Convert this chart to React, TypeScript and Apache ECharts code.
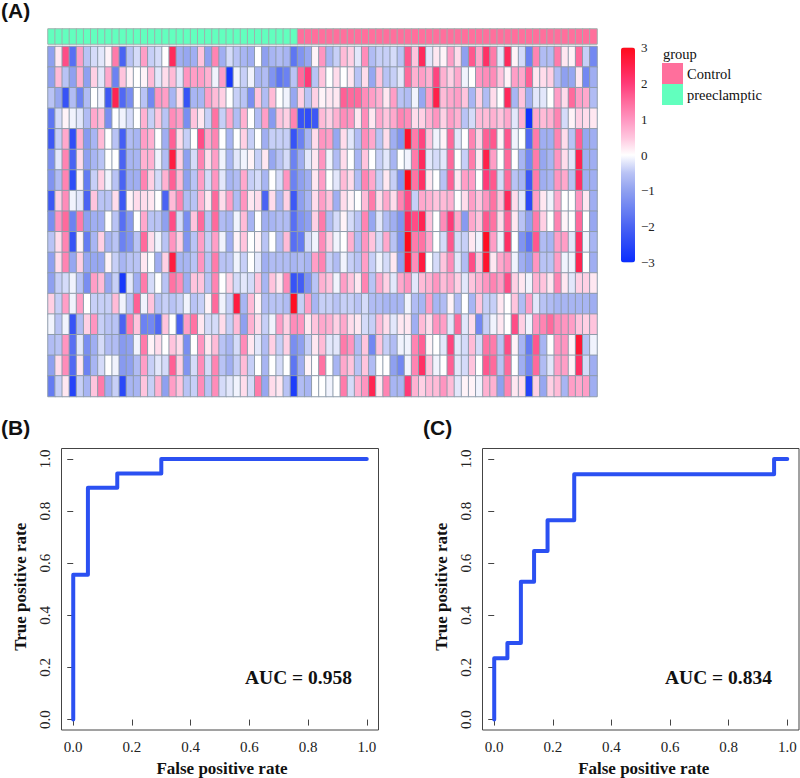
import React, { useEffect, useRef } from "react";
import * as echarts from "echarts";

const row01 = [-1,.2,1.8,-1.8,.9,-.5,-.3,-.2,.1,1.3,-2,-.5,-.3,.9,-.4,-.3,0,2.3,-.8,-.9,-.8,.5,-1,1.2,-.8,-.3,-.5,-.7,-.8,0,-1,-.7,-.6,-.7,-1.7,-1.2,-.9,.1,1,-.7,-.4,.6,.4,-.2,1.1,-.6,-.4,-.4,-.3,-.5,1.7,.5,2.3,-.2,.2,.1,.9,.3,-1,1.7,.8,2.2,1.3,-.2,2.3,.1,-.3,-1.5,1.2,-.6,-.6,1.3,.2,.1,1.5,-.4,-1.4];
const row02 = [-1,.6,-.5,-1,.7,-1,.4,-.2,.8,-1.5,.5,.1,0,.1,.6,-.2,.3,.6,-.2,1,.9,.9,.7,-.1,.9,-2.8,-.1,-.4,-.1,-.7,-.6,-1.2,-1.7,-1.5,-.5,1.5,2,-.5,.5,0,.3,0,.2,-.5,.3,-.9,.5,-.5,-.4,-.2,1.5,.7,.9,.7,1.9,.7,.4,.8,-.1,0,1,1.1,1.1,.5,.1,.9,.8,1.6,.2,.3,.4,-.6,-1,-.9,.2,-1.4,-.8];
const row03 = [-.5,-.9,-2.3,-.6,-1.5,-.6,0,-.1,-2.2,2.4,-1.9,-1.3,0,-.5,-1.4,1,.9,-.7,.3,-2.3,-.7,-.7,.9,.6,.4,0,-.4,-.5,-1.3,.5,-.6,.6,0,-.1,-.9,.4,-.5,.4,.1,.2,.2,1.6,1.5,1.5,1.1,.9,.7,.2,.9,-.5,-.6,-.1,-.9,.9,2.5,.6,.8,.9,.5,-.7,.4,-.6,.3,0,2.3,-.7,.5,-.8,-.2,-.2,0,.9,.3,1.5,.9,.8,-.6];
const row04 = [-1.7,-.3,.1,-.1,-.2,-.6,.8,.6,-1.3,0,-.1,-.3,0,.7,-.4,.5,-.5,1.1,.9,-1.3,.5,.2,-.4,1.4,-.4,.8,-.6,.7,0,-.6,.9,-1.1,.5,.4,1.2,-2.3,-2.4,-2.2,.6,.4,.7,1.1,1,.2,1.1,.2,.8,.5,.8,1.2,1.1,.3,.4,.7,1,.4,.9,.7,-.5,-.3,.6,.6,.7,.5,.8,-.2,.7,-2.9,.8,.6,.7,1.2,-.3,.1,.4,.3,.2];
const row05 = [-2.2,-.4,.8,-2.4,.7,-1.1,-.7,.6,0,-.5,-2.1,-.6,-.7,.9,.7,0,-.8,1.6,.3,-.4,0,1.8,.8,1.2,0,-.7,0,.4,-.4,0,-.8,-.4,-.4,-.4,-2.3,-1.5,-.7,.3,1,.9,-.9,.3,-.2,-.6,1.1,.8,-.5,.3,-.8,-1.2,2.8,1.3,1.9,.5,-.1,.1,1.5,-.2,0,1.2,.4,1.6,1.7,.1,1.7,-.1,0,-1.9,1.3,-.8,-.8,1.2,.3,-.5,1.6,-.9,-.8];
const row06 = [-1.3,-.2,1.2,-2,.3,-1,-.7,-.5,0,0,-2,-.7,-.7,.7,.7,-.1,-.6,2.6,.4,-1,-.3,1.2,.3,.9,-.1,-.7,-.2,-.1,.1,-.4,.2,-.9,-.5,-.3,-1.5,-.8,-.2,.2,1,-.1,-.6,.3,0,-.7,.5,0,-.4,-.2,-.7,0,-.1,1.3,2.3,-.2,-.3,-.2,1.5,0,-.4,1.3,.2,2.5,.9,0,1.5,0,-.7,-1.4,1.3,-.9,-.7,1,.3,-.2,2.4,-.8,-.8];
const row07 = [-1.2,-.6,1.2,-2.4,.1,-1.6,-.4,.4,-.1,-.5,-2,-.8,-.8,1.2,.4,-.3,.7,1.6,.6,-1,-.5,.9,-.3,1,-.2,-.7,-.6,.8,-.4,-.3,-.7,0,-.3,1,-1.5,-1,-.8,.2,.9,0,-.2,.6,.3,-.6,1.2,.8,-.4,.2,-.4,-1.2,3,1.4,2.2,.2,0,-.5,1.6,.2,.9,.9,0,2,1.7,-.3,1.5,-.5,-.7,-2.2,1.3,-.8,-.7,1,.8,-.5,2.2,-.8,-.8];
const row08 = [-2.2,.4,1.1,-.1,-.2,-2,.5,-.5,-.5,.3,-2.2,.1,.3,.3,.2,0,-2,.6,1.2,-.6,-.5,.7,.2,1.5,.3,.9,-.6,1,.2,.3,-2,.3,-.7,.4,-2.2,-1,-.7,.3,.9,.5,-.8,.3,.1,0,.6,1.3,.3,.8,.3,1.2,1.8,-.4,.8,.7,.5,.6,.7,0,.3,.9,.5,1,1.4,.5,2.3,.3,-.2,-2.5,.9,.2,-.1,.8,0,0,1,.2,-.8];
const row09 = [-1.3,1,1.5,-1.5,1.3,-1,-.8,-.8,0,-.5,-1.8,-1.1,0,.8,-.5,-.5,-1,1.8,-.3,-1.3,.5,1.5,-.5,1.5,-.6,-.7,-.1,.6,-.7,0,-.8,-.7,-.6,-.6,-1.8,-1.2,-1,.4,1.3,-.6,-.3,.1,-.3,-.5,1.2,-.9,-.2,-.6,-.8,-1.2,2.3,1.8,2.4,.5,0,1.1,2,.8,-1.1,.8,.5,1.7,1.4,.3,1.6,.2,-.5,-1,1.3,.4,0,1.2,.1,0,1.5,0,-.9];
const row10 = [-.5,.3,1.2,-2.3,.1,-1.6,-.7,.4,-.7,-.5,-1.5,-1.2,-.5,1.5,.3,-.1,-.5,1,.4,-1.2,-.5,.9,-.4,.9,-.1,-.8,.1,.5,0,.1,-.5,0,-.6,.6,-1.8,-1.6,-.3,-.1,1.1,.4,-.1,0,.7,-.6,1,.5,-.3,.8,-.5,-1.2,3,1.3,1.4,.8,0,-.3,1.7,-.3,-.4,.2,-.1,2.9,.9,-.1,2.2,0,-1.2,-1.7,1.7,-.6,-.7,.9,.9,-.2,2.2,-.1,-.7];
const row11 = [-1,.3,1.2,-.9,.4,-.9,-.9,-.9,.1,-.4,-.7,-.5,-.5,.2,0,-.8,.4,2.6,-.7,-.7,-.5,1,-.5,1.3,-.5,-.5,-.1,-.4,0,-.2,-.8,-.6,-.6,-.6,-.7,-.6,-.7,.9,1.2,-.4,-.6,-.1,-.4,-.5,.9,-.4,-.1,-.3,.2,-1,2.8,1.1,2.6,0,-.3,.5,1.1,-.2,-.6,1.8,.5,2.8,.2,.8,1,-.1,-.8,-1,1,-.5,-.5,.9,-.1,-.1,2.4,0,-.8];
const row12 = [-1,-.4,-.3,-.1,-.5,-1.3,.9,.6,-.9,-.4,-2.8,-.2,-.8,1.3,-.3,0,-.5,1.4,1.1,-.8,.5,.5,-.5,1.2,0,.4,-.3,-.2,-.3,.5,-.7,.5,.2,1.1,-2.3,-2.1,-1.2,-.5,.7,.5,-.1,.9,.5,.2,1.2,-.5,.8,.4,-.2,.8,1,-.2,.6,.7,1,.6,.8,.4,-.2,.5,.7,1,1.2,.9,1.8,.4,.2,-.1,.7,.5,.2,1.2,.2,-.2,.4,.4,.2];
const row13 = [.4,-.4,.9,-.1,.9,0,-.4,-.4,-.4,.6,-.1,-.5,1.6,-.1,.5,-.5,-.4,-.5,-.4,-.1,-.5,-.4,.1,1.5,-.1,-.4,2.6,-.7,.6,.1,-.6,-.5,-.5,-.6,2.9,-.4,.9,-.7,-.4,-.4,-.5,-.4,-.4,-.5,-.3,-.6,-.6,-.7,-.7,-.7,-.1,-.6,-.7,.9,-.7,-.6,.1,-.6,0,-.7,.5,-.4,-.4,.2,0,.5,-.6,.9,-.2,-.5,-.6,-.7,-.7,-.7,-.7,-.7,-.8];
const row14 = [-.1,-.5,-.1,-2.3,-.6,.4,1,-.4,-.5,-.5,-2,1.3,.5,-1.5,-1.4,-1.9,.5,0,-2,.9,1.4,.2,-.3,-.3,.3,-.4,.6,-1,.7,.3,-.4,-.1,.9,.4,1.1,1,.2,.5,.8,.7,.4,.8,.3,.2,-.3,-.4,.6,.3,-.2,.2,.2,-.8,.6,.3,1,.9,-.2,1.5,-.2,.3,-1.4,-.4,-.1,.2,0,1.8,.4,-.1,1,1.2,1.5,1.1,1,.9,.5,.4,.5];
const row15 = [-.6,-.5,1,-1.8,-.2,-1.3,-.8,-.3,-.6,-.6,-1.1,-1,-.1,1.3,.1,.3,0,.5,.3,-1.3,0,1,.2,.6,-.5,-.7,-.3,1.1,.2,-.2,-.6,.4,-.4,.4,-1.3,-1,-.4,.2,.6,-.2,-.2,1.3,1,-.6,.5,-1.4,.5,-.4,-.6,-.1,-.1,1.2,1.6,.1,0,-.2,1.9,-.2,-.3,.6,-.3,1.4,1.3,-.5,1.8,.1,-.7,-1.6,1.7,-.7,0,1,1,.1,2.7,-.5,-.1];
const row16 = [-1,.3,1.1,-1.9,.2,-1.5,-.7,-.3,0,-.1,-1.1,-1,-.6,.9,-.4,-.2,-.3,1.6,.4,-1.2,-.3,1.1,-.3,1.2,-.5,-.8,-.4,.6,-.4,0,-.7,0,-.3,0,-1.7,-.8,.1,0,1.4,0,-.7,.8,.5,-.5,.5,-.6,0,0,-1,-1.4,-.1,1.2,2.2,.5,-.1,0,1.6,-.2,-.3,.5,0,1.7,1.5,-.5,1.5,0,-.8,-1.4,1.5,-.6,-.2,.9,.9,.1,2.2,-.3,-.8];
const row17 = [-1.6,-.4,.2,-2.6,-.4,-.7,.5,1.3,-.8,-.4,-2.5,-.7,-.7,.5,-.4,.7,-1,.9,.5,-.5,-.4,1.1,-.5,1.1,-.3,-.2,-.1,.3,-.3,1.3,-.9,.3,.2,-.5,-2.7,-.6,-.7,0,0,-.1,0,1.3,-.3,.7,1,2.4,.2,1.2,-.7,-.7,2,.7,.4,.6,.6,1,.6,-.2,.1,.1,-.1,.7,.7,-1,1.2,.2,.3,-2.6,.4,-.9,.4,.6,-.7,.9,.8,.9,-.8];
const heatRows = [row01,row02,row03,row04,row05,row06,row07,row08,row09,row10,row11,row12,row13,row14,row15,row16,row17];

const preeclampticCount = 35;
const groupNames = ["Control", "preeclamptic"];
const colorTicks = [-3, -2, -1, 0, 1, 2, 3];
const rocTicks = [0, 0.2, 0.4, 0.6, 0.8, 1];
const rocB = [[0,0],[0,0.556],[0.05,0.556],[0.05,0.889],[0.15,0.889],[0.15,0.944],[0.3,0.944],[0.3,1],[1,1]];
const rocC = [[0,0],[0,0.235],[0.045,0.235],[0.045,0.294],[0.091,0.294],[0.091,0.529],[0.136,0.529],[0.136,0.647],[0.182,0.647],[0.182,0.765],[0.273,0.765],[0.273,0.941],[0.955,0.941],[0.955,1],[1,1]];
const heatRamp = ["#0a2dff","#2a48f8","#4a63f3","#6c82f2","#8fa0f0","#b9c3f5","#ffffff","#ffc4dd","#ff95c0","#ff6a9c","#ff3a78","#ff2049","#ff0a1a"];

const SERIF = "'Liberation Serif', serif";
const SANS = "'Liberation Sans', sans-serif";
const INK = "#222";

function rocAxes(gridIndex: number, xShift: number) {
  const common = {
    gridIndex, type: "value", min: -0.04, max: 1.04, splitLine: { show: false },
    axisLine: { show: false },
    axisTick: { show: true, length: 6, customValues: rocTicks, lineStyle: { color: "#444", width: 1 } },
    nameLocation: "middle",
  };
  const nameStyle = { fontFamily: SERIF, fontWeight: "bold", fontSize: 17, color: "#111" };
  const labels = { customValues: rocTicks, fontFamily: SERIF, fontSize: 15, color: INK, formatter: (v: number) => v.toFixed(1) };
  return {
    x: { ...common, name: "False positive rate", nameGap: 30, nameTextStyle: { ...nameStyle, padding: [0, 0, 0, xShift] }, axisLabel: { ...labels, margin: 9, showMinLabel: true, showMaxLabel: true } },
    y: { ...common, name: "True positive rate", nameGap: 33, nameTextStyle: { ...nameStyle, padding: [0, 0, 0, 5] }, axisLabel: { ...labels, rotate: 90, margin: 9, showMinLabel: true, showMaxLabel: true } },
  };
}

function rocSeries(name: string, data: number[][], axisIndex: number) {
  return {
    name, type: "line", data, xAxisIndex: axisIndex, yAxisIndex: axisIndex, symbol: "none", clip: false,
    lineStyle: { color: "#2b50f2", width: 4, cap: "round", join: "round" }, silent: true,
  };
}

export default function App() {
  const ref = useRef<HTMLDivElement>(null);
  useEffect(() => {
    const chart = echarts.init(ref.current!, null, { renderer: "svg" });
    const colCats = heatRows[0].map((_, i) => `S${i + 1}`);
    const rowCats = heatRows.map((_, i) => `G${i + 1}`);
    const heatData: number[][] = [];
    heatRows.forEach((r, y) => r.forEach((v, x) => heatData.push([x, y, v])));
    const groupData = colCats.map((_, i) => [i, 0, i < preeclampticCount ? 1 : 0]);
    const b = rocAxes(3, 4);
    const c = rocAxes(4, 6);
    const hiddenCat = (cats: string[], gridIndex: number, inverse = false) => ({
      type: "category", data: cats, gridIndex, inverse, show: false,
    });
    chart.setOption({
      animation: false,
      backgroundColor: "#fff",
      grid: [
        { left: 48, top: 46.5, width: 549, height: 350 },
        { left: 48, top: 29, width: 549, height: 15 },
        { left: 621, top: 47.5, width: 14, height: 215 },
        { left: 61.5, top: 448.5, width: 317, height: 283.5, show: true, borderColor: "#444", borderWidth: 1, backgroundColor: "transparent" },
        { left: 482.5, top: 448.5, width: 316.5, height: 283.5, show: true, borderColor: "#444", borderWidth: 1, backgroundColor: "transparent" },
      ],
      xAxis: [
        hiddenCat(colCats, 0),
        hiddenCat(colCats, 1),
        { type: "value", gridIndex: 2, min: 0, max: 1, show: false },
        b.x,
        c.x,
      ],
      yAxis: [
        hiddenCat(rowCats, 0, true),
        hiddenCat(["group"], 1),
        {
          type: "value", gridIndex: 2, min: colorTicks[0], max: colorTicks[6], interval: 1, position: "right",
          splitLine: { show: false }, axisLine: { show: false }, axisTick: { show: false },
          axisLabel: {
            margin: 6, fontFamily: SERIF, fontSize: 13, color: INK, align: "left",
            formatter: (v: number) => String(v).replace("-", "\u2212"),
          },
        },
        b.y,
        c.y,
      ],
      visualMap: [
        {
          type: "continuous", seriesIndex: 0, min: -3, max: 3, show: true, calculable: false, realtime: false,
          left: 621, top: 47.5, itemWidth: 14, itemHeight: 215, padding: 0, text: null, hoverLink: false,
          inRange: { color: heatRamp },
        },
        {
          type: "piecewise", seriesIndex: 1, show: true, orient: "vertical", inverse: true, left: 662, top: 63, padding: 0,
          itemWidth: 21, itemHeight: 21, itemGap: 0, textGap: 4, selectedMode: false, hoverLink: false, align: "left",
          itemSymbol: "rect",
          textStyle: { fontFamily: SERIF, fontSize: 14.5, color: "#111" },
          pieces: [
            { value: 0, label: groupNames[0], color: "#ff6f9c" },
            { value: 1, label: groupNames[1], color: "#62ffbe" },
          ],
        },
      ],
      series: [
        {
          name: "expression", type: "heatmap", data: heatData, xAxisIndex: 0, yAxisIndex: 0, progressive: 0, silent: true,
          itemStyle: { borderColor: "#8f9cab", borderWidth: 1 },
        },
        {
          name: "group", type: "heatmap", data: groupData, xAxisIndex: 1, yAxisIndex: 1, progressive: 0, silent: true,
          itemStyle: { borderColor: "#9fb0ae", borderWidth: 1 },
        },
        rocSeries("ROC B", rocB, 3),
        rocSeries("ROC C", rocC, 4),
      ],
      graphic: [
        { type: "text", x: 1, y: 0, style: { text: "(A)", font: `bold 21px ${SANS}`, fill: "#111" } },
        { type: "text", x: 1, y: 417, style: { text: "(B)", font: `bold 21px ${SANS}`, fill: "#111" } },
        { type: "text", x: 423, y: 417, style: { text: "(C)", font: `bold 21px ${SANS}`, fill: "#111" } },
        { type: "text", x: 663, y: 46, style: { text: "group", font: `14.5px ${SERIF}`, fill: "#111" } },
        { type: "rect", shape: { x: 662.5, y: 63.5, width: 20, height: 20 }, style: { fill: "none", stroke: "#93a0a0", lineWidth: 1 } },
        { type: "rect", shape: { x: 662.5, y: 84.5, width: 20, height: 20 }, style: { fill: "none", stroke: "#93a0a0", lineWidth: 1 } },
        { type: "text", x: 245, y: 667, style: { text: "AUC = 0.958", font: `bold 19.5px ${SERIF}`, fill: "#111" } },
        { type: "text", x: 665, y: 667, style: { text: "AUC = 0.834", font: `bold 19.5px ${SERIF}`, fill: "#111" } },
      ],
    });
    return () => chart.dispose();
  }, []);
  return <div ref={ref} style={{ position: "absolute", left: 0, top: 0, width: 800, height: 778 }} />;
}
